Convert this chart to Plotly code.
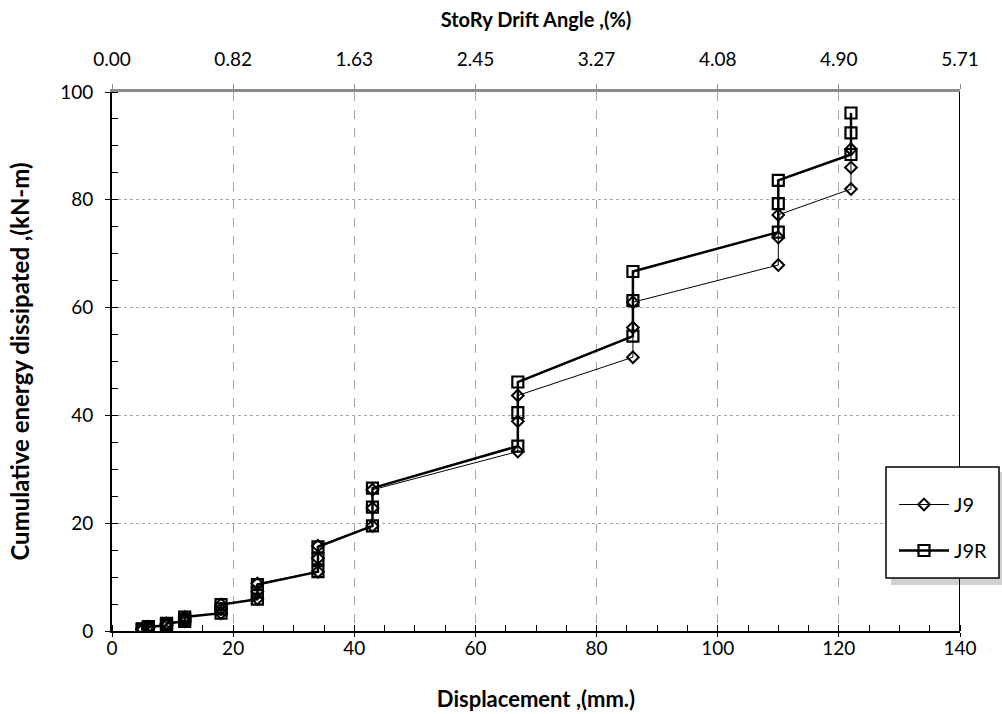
import plotly.graph_objects as go

# ---- data ----
disp_j9 = [5, 5, 5, 6, 6, 6, 9, 9, 9, 12, 12, 12, 18, 18, 18, 24, 24, 24,
           34, 34, 34, 43, 43, 43, 67, 67, 67, 86, 86, 86, 110, 110, 110, 122, 122, 122]
energy_j9 = [0.2, 0.3, 0.4, 0.5, 0.6, 0.8, 1.0, 1.2, 1.4, 1.8, 2.2, 2.6, 3.3, 4.1, 4.9,
             6.0, 7.3, 8.8, 11.0, 13.5, 15.8, 19.5, 22.8, 26.2, 33.3, 38.9, 43.7,
             50.8, 56.3, 61.0, 67.9, 73.0, 77.2, 82.0, 86.0, 89.4]

disp_j9r = [5, 5, 5, 6, 6, 6, 9, 9, 9, 12, 12, 12, 18, 18, 18, 24, 24, 24,
            34, 34, 34, 43, 43, 43, 67, 67, 67, 86, 86, 86, 110, 110, 110, 122, 122, 122]
energy_j9r = [0.2, 0.3, 0.4, 0.5, 0.6, 0.8, 1.0, 1.2, 1.4, 1.8, 2.2, 2.6, 3.3, 4.1, 4.9,
              5.9, 7.2, 8.6, 11.0, 13.4, 15.6, 19.5, 23.0, 26.5, 34.3, 40.5, 46.2,
              54.7, 61.3, 66.7, 74.0, 79.3, 83.6, 88.4, 92.4, 96.1]

x_ticks = [0, 20, 40, 60, 80, 100, 120, 140]
y_ticks = [0, 20, 40, 60, 80, 100]
drift_labels = ["0.00", "0.82", "1.63", "2.45", "3.27", "4.08", "4.90", "5.71"]
drift_max = 5.71

FONT = "Lato"
L, R, T, B = 112, 42, 92, 83
W, H = 1002, 714
PW, PH = W - L - R, H - T - B


def px_to_paper(px, py):
    return (px - L) / PW, (H - B - py) / PH


fig = go.Figure()
fig.add_trace(go.Scatter(
    x=disp_j9, y=energy_j9, name="J9", mode="lines+markers",
    line=dict(color="black", width=1),
    marker=dict(symbol="diamond-open", size=9, color="black", line=dict(width=2)),
    legendgroup="a"))
fig.add_trace(go.Scatter(
    x=disp_j9r, y=energy_j9r, name="J9R", mode="lines+markers",
    line=dict(color="black", width=2.5),
    marker=dict(symbol="square-open", size=11, color="black", line=dict(width=2.2)),
    legendgroup="b"))
fig.add_trace(go.Scatter(x=[0, drift_max], y=[0, 0], xaxis="x2", mode="markers",
                         marker=dict(opacity=0), showlegend=False, hoverinfo="skip"))

n = len(drift_labels)
top_vals = [drift_max * i / (n - 1) for i in range(n)]

lx, ly = px_to_paper(894, 485)

fig.update_layout(
    width=W, height=H,
    margin=dict(l=L, r=R, t=T, b=B, autoexpand=False),
    paper_bgcolor="white", plot_bgcolor="white",
    font=dict(family=FONT, size=19, color="black"),
    xaxis=dict(
        range=[0, 140], tickvals=x_ticks, showline=True, linecolor="black", linewidth=2,
        ticks="outside", ticklen=4, tickcolor="black", ticklabelstandoff=-5,
        minor=dict(dtick=5, ticks="inside", ticklen=6, tickcolor="black", showgrid=False),
        showgrid=True, gridcolor="#a6a6a6", griddash="dash", gridwidth=1,
        zeroline=False, automargin=False,
        title=dict(text="<b>Displacement ,(mm.)</b>", font=dict(size=22), standoff=34),
    ),
    xaxis2=dict(
        overlaying="x", side="top", anchor="y", range=[0, drift_max],
        tickvals=top_vals, ticktext=drift_labels, showline=True, linecolor="#8c8c8c",
        linewidth=3, ticks="outside", ticklen=5, tickcolor="#8c8c8c", showgrid=False,
        zeroline=False, ticklabelstandoff=10, automargin=False,
        title=dict(text="<b>StoRy Drift Angle ,(%)</b>", font=dict(size=20), standoff=15),
    ),
    yaxis=dict(
        range=[0, 100], tickvals=y_ticks, showline=True, linecolor="black", linewidth=2,
        ticks="outside", ticklen=5, tickcolor="black", ticklabelstandoff=8,
        minor=dict(dtick=5, ticks="inside", ticklen=6, tickcolor="black", showgrid=False),
        showgrid=True, gridcolor="#a6a6a6", griddash="dot", gridwidth=1,
        zeroline=False, automargin=False,
        title=dict(text="<b>Cumulative energy dissipated ,(kN-m)</b>", font=dict(size=24), standoff=24),
    ),
    legend=dict(
        x=lx, y=ly, xanchor="left", yanchor="top",
        bgcolor="rgba(0,0,0,0)", borderwidth=0,
        font=dict(size=20), tracegroupgap=17, itemwidth=50,
    ),
    showlegend=True,
)

# right border line
fig.add_shape(type="line", xref="x", yref="paper", x0=140, x1=140, y0=0, y1=1,
              line=dict(color="black", width=2))
# legend shadow and box
sx0, sy0 = px_to_paper(891, 585)
sx1, sy1 = px_to_paper(1004, 472)
fig.add_shape(type="rect", xref="paper", yref="paper", x0=sx0, x1=sx1, y0=sy0, y1=sy1,
              fillcolor="rgba(0,0,0,0.18)", line=dict(width=0), layer="above")
bx0, by0 = px_to_paper(886, 578)
bx1, by1 = px_to_paper(999, 467)
fig.add_shape(type="rect", xref="paper", yref="paper", x0=bx0, x1=bx1, y0=by0, y1=by1,
              fillcolor="white", line=dict(color="black", width=1.5), layer="above")

fig.write_html("out.html")
